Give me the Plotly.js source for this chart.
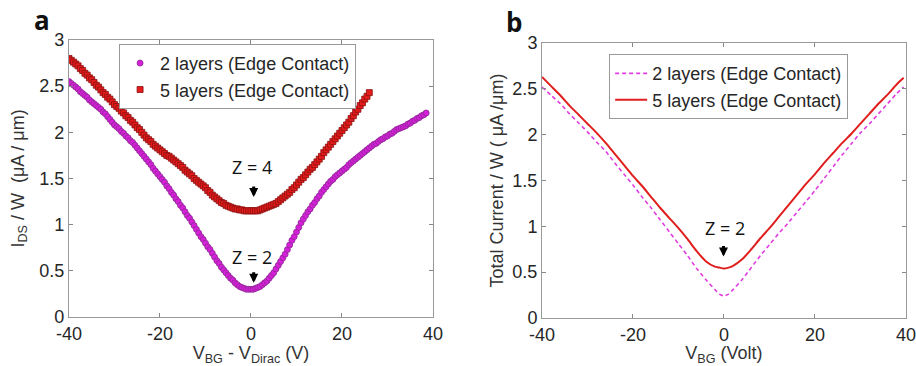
<!DOCTYPE html>
<html>
<head>
<meta charset="utf-8">
<script src="https://cdn.plot.ly/plotly-3.0.1.min.js"></script>
<style>html,body{margin:0;padding:0;background:#fff;}#chart{width:916px;height:366px;}</style>
</head>
<body>
<div id="chart"></div>
<script>
// Panel a: measured I_DS/W vs V_BG - V_Dirac (2 layers)
const aX2 = [-40,-39.5,-39,-38.5,-38,-37.5,-37,-36.5,-36,-35.5,-35,-34.5,-34,-33.5,-33,-32.5,-32,-31.5,-31,-30.5,-30,-29.5,-29,-28.5,-28,-27.5,-27,-26.5,-26,-25.5,-25,-24.5,-24,-23.5,-23,-22.5,-22,-21.5,-21,-20.5,-20,-19.5,-19,-18.5,-18,-17.5,-17,-16.5,-16,-15.5,-15,-14.5,-14,-13.5,-13,-12.5,-12,-11.5,-11,-10.5,-10,-9.5,-9,-8.5,-8,-7.5,-7,-6.5,-6,-5.5,-5,-4.5,-4,-3.5,-3,-2.5,-2,-1.5,-1,-0.5,0,0.5,1,1.5,2,2.5,3,3.5,4,4.5,5,5.5,6,6.5,7,7.5,8,8.5,9,9.5,10,10.5,11,11.5,12,12.5,13,13.5,14,14.5,15,15.5,16,16.5,17,17.5,18,18.5,19,19.5,20,20.5,21,21.5,22,22.5,23,23.5,24,24.5,25,25.5,26,26.5,27,27.5,28,28.5,29,29.5,30,30.5,31,31.5,32,32.5,33,33.5,34,34.5,35,35.5,36,36.5,37,37.5,38,38.5];
const aY2 = [2.55,2.53,2.51,2.49,2.47,2.44,2.42,2.40,2.38,2.35,2.33,2.31,2.29,2.27,2.25,2.22,2.20,2.17,2.14,2.11,2.08,2.06,2.04,2.01,1.99,1.96,1.94,1.91,1.89,1.86,1.83,1.80,1.77,1.74,1.71,1.68,1.65,1.61,1.58,1.55,1.52,1.49,1.46,1.42,1.39,1.35,1.32,1.28,1.25,1.21,1.18,1.14,1.10,1.07,1.03,0.99,0.95,0.91,0.87,0.84,0.80,0.76,0.73,0.69,0.65,0.61,0.58,0.54,0.51,0.48,0.45,0.42,0.40,0.37,0.35,0.33,0.32,0.31,0.30,0.30,0.30,0.30,0.31,0.32,0.33,0.35,0.37,0.39,0.42,0.45,0.48,0.52,0.56,0.60,0.64,0.68,0.73,0.78,0.83,0.87,0.92,0.97,1.02,1.06,1.10,1.14,1.17,1.21,1.24,1.28,1.31,1.35,1.38,1.41,1.44,1.47,1.49,1.52,1.54,1.56,1.58,1.60,1.62,1.65,1.67,1.69,1.71,1.73,1.75,1.77,1.79,1.81,1.83,1.85,1.87,1.88,1.90,1.92,1.93,1.95,1.96,1.98,1.99,2.01,2.03,2.04,2.05,2.06,2.07,2.09,2.10,2.12,2.13,2.15,2.16,2.18,2.19,2.21];
// Panel a: 5 layers
const aX5 = [-40,-39.5,-39,-38.5,-38,-37.5,-37,-36.5,-36,-35.5,-35,-34.5,-34,-33.5,-33,-32.5,-32,-31.5,-31,-30.5,-30,-29.5,-29,-28.5,-28,-27.5,-27,-26.5,-26,-25.5,-25,-24.5,-24,-23.5,-23,-22.5,-22,-21.5,-21,-20.5,-20,-19.5,-19,-18.5,-18,-17.5,-17,-16.5,-16,-15.5,-15,-14.5,-14,-13.5,-13,-12.5,-12,-11.5,-11,-10.5,-10,-9.5,-9,-8.5,-8,-7.5,-7,-6.5,-6,-5.5,-5,-4.5,-4,-3.5,-3,-2.5,-2,-1.5,-1,-0.5,0,0.5,1,1.5,2,2.5,3,3.5,4,4.5,5,5.5,6,6.5,7,7.5,8,8.5,9,9.5,10,10.5,11,11.5,12,12.5,13,13.5,14,14.5,15,15.5,16,16.5,17,17.5,18,18.5,19,19.5,20,20.5,21,21.5,22,22.5,23,23.5,24,24.5,25,25.5,26];
const aY5 = [2.80,2.78,2.76,2.74,2.72,2.69,2.67,2.64,2.62,2.59,2.57,2.54,2.51,2.49,2.46,2.43,2.41,2.38,2.36,2.33,2.30,2.28,2.26,2.23,2.21,2.18,2.16,2.13,2.11,2.08,2.05,2.03,2.00,1.97,1.94,1.92,1.90,1.87,1.85,1.83,1.81,1.79,1.77,1.75,1.74,1.72,1.70,1.68,1.66,1.64,1.62,1.59,1.57,1.55,1.53,1.50,1.48,1.46,1.44,1.42,1.40,1.37,1.35,1.32,1.30,1.28,1.26,1.24,1.23,1.21,1.20,1.19,1.18,1.17,1.17,1.16,1.16,1.15,1.15,1.15,1.15,1.15,1.15,1.15,1.16,1.17,1.18,1.19,1.20,1.21,1.22,1.23,1.25,1.27,1.29,1.31,1.33,1.35,1.38,1.40,1.43,1.46,1.49,1.51,1.54,1.57,1.60,1.62,1.65,1.68,1.71,1.74,1.78,1.81,1.84,1.87,1.90,1.93,1.96,1.99,2.02,2.05,2.08,2.11,2.15,2.18,2.22,2.25,2.29,2.32,2.36,2.39,2.43];

// Panel b: simulated total current / W vs V_BG
const bX = [-40,-38,-36,-34,-32,-30,-28,-26,-24,-22,-20,-18,-16,-14,-12,-10,-8,-6,-4,-2,-1,0,1,2,4,6,8,10,12,14,16,18,20,22,24,26,28,30,32,34,36,38,39.5];
const bY2 = [2.52,2.43,2.34,2.23,2.13,2.03,1.92,1.82,1.69,1.57,1.45,1.32,1.20,1.07,0.94,0.81,0.68,0.54,0.42,0.31,0.26,0.24,0.26,0.31,0.42,0.55,0.68,0.80,0.92,1.03,1.15,1.27,1.39,1.52,1.65,1.78,1.90,2.02,2.12,2.23,2.34,2.45,2.52];
const bY5 = [2.63,2.53,2.43,2.32,2.22,2.12,2.02,1.91,1.79,1.67,1.55,1.44,1.32,1.20,1.09,0.98,0.86,0.73,0.62,0.56,0.55,0.54,0.55,0.57,0.64,0.75,0.87,0.98,1.10,1.22,1.34,1.46,1.57,1.69,1.80,1.91,2.01,2.12,2.23,2.34,2.44,2.55,2.62];

const seriesNames = ['2 layers (Edge Contact)', '5 layers (Edge Contact)'];
const yTicks = [0, 0.5, 1, 1.5, 2, 2.5, 3];
const yTickText = ['0', '0.5', '1', '1.5', '2', '2.5', '3'];
const xTicks = [-40, -20, 0, 20, 40];

const F = 'Liberation Sans, Arial, sans-serif';
const F2 = 'Open Sans, Liberation Sans, sans-serif';

const traces = [
  {x: aX2, y: aY2, type: 'scatter', mode: 'markers', name: seriesNames[0], xaxis: 'x', yaxis: 'y', legend: 'legend',
   marker: {symbol: 'circle', size: 6, color: '#d61fd8', line: {color: '#8a2a92', width: 0.8}}},
  {x: aX5, y: aY5, type: 'scatter', mode: 'markers', name: seriesNames[1], xaxis: 'x', yaxis: 'y', legend: 'legend',
   marker: {symbol: 'square', size: 6, color: '#e31b1b', line: {color: '#8a1010', width: 0.8}}},
  {x: bX, y: bY2, type: 'scatter', mode: 'lines', name: seriesNames[0], xaxis: 'x2', yaxis: 'y2', legend: 'legend2',
   line: {color: '#e03ce0', width: 1.6, dash: '4px,3px', shape: 'spline', smoothing: 0.6}},
  {x: bX, y: bY5, type: 'scatter', mode: 'lines', name: seriesNames[1], xaxis: 'x2', yaxis: 'y2', legend: 'legend2',
   line: {color: '#e01e1e', width: 2, shape: 'spline', smoothing: 0.6}}
];

function xax(domain, anchor, title) {
  return {domain: domain, anchor: anchor, range: [-40, 40], tickvals: xTicks, ticktext: xTicks.map(String),
    ticks: 'inside', ticklen: 4, tickcolor: '#888', showline: true, linecolor: '#999', linewidth: 1,
    mirror: 'ticks', showgrid: false, zeroline: false, automargin: false,
    tickfont: {family: F, size: 18, color: '#262626'},
    title: {text: title, font: {family: F, size: 18, color: '#333'}, standoff: 2}};
}
function yax(domain, anchor, title, standoff) {
  return {domain: domain, anchor: anchor, range: [0, 3], tickvals: yTicks, ticktext: yTickText,
    ticks: 'inside', ticklen: 4, tickcolor: '#888', showline: true, linecolor: '#999', linewidth: 1,
    mirror: 'ticks', showgrid: false, zeroline: false, automargin: false,
    tickfont: {family: F, size: 18, color: '#262626'},
    title: {text: title, font: {family: F, size: 18, color: '#333'}, standoff: standoff}};
}

const layout = {
  width: 916, height: 366,
  margin: {l: 0, r: 0, t: 0, b: 0},
  paper_bgcolor: '#fff', plot_bgcolor: '#fff',
  showlegend: true,
  xaxis: xax([0.0753, 0.4727], 'y', 'V<sub>BG</sub> - V<sub>Dirac</sub> (V)'),
  yaxis: yax([0.1339, 0.8907], 'x', 'I<sub>DS</sub> / W  (μA / μm)', 10),
  xaxis2: xax([0.5917, 0.989], 'y2', 'V<sub>BG</sub> (Volt)'),
  yaxis2: yax([0.1311, 0.8825], 'x2', 'Total Current / W ( μA /μm)', 4),
  legend: {x: 0.130, y: 0.880, xanchor: 'left', yanchor: 'top', bgcolor: '#fff',
    bordercolor: '#999', borderwidth: 1, font: {family: F, size: 18, color: '#262626'},
    tracegroupgap: 0, itemwidth: 30},
  legend2: {x: 0.665, y: 0.852, xanchor: 'left', yanchor: 'top', bgcolor: '#fff',
    bordercolor: '#999', borderwidth: 1, font: {family: F, size: 18, color: '#262626'},
    tracegroupgap: 0, itemwidth: 32},
  annotations: [
    {text: '<b>a</b>', xref: 'paper', yref: 'paper', x: 42/916, y: 1 - 20/366, xanchor: 'center', yanchor: 'middle', showarrow: false, font: {family: F2, size: 26, color: '#111'}},
    {text: '<b>b</b>', xref: 'paper', yref: 'paper', x: 514/916, y: 1 - 22/366, xanchor: 'center', yanchor: 'middle', showarrow: false, font: {family: F2, size: 26, color: '#111'}},
    {text: 'Z = 4', xref: 'x', yref: 'y', x: 0.2, y: 1.62, showarrow: false, font: {family: F2, size: 18, color: '#111'}},
    {text: '', xref: 'x', yref: 'y', x: 0.6, y: 1.30, ax: 0, ay: -12, showarrow: true, arrowhead: 2, arrowsize: 0.6, arrowwidth: 3, arrowcolor: '#000'},
    {text: 'Z = 2', xref: 'x', yref: 'y', x: 0.2, y: 0.65, showarrow: false, font: {family: F2, size: 18, color: '#111'}},
    {text: '', xref: 'x', yref: 'y', x: 0.6, y: 0.37, ax: 0, ay: -12, showarrow: true, arrowhead: 2, arrowsize: 0.6, arrowwidth: 3, arrowcolor: '#000'},
    {text: 'Z = 2', xref: 'x2', yref: 'y2', x: 0.3, y: 0.98, showarrow: false, font: {family: F2, size: 18, color: '#111'}},
    {text: '', xref: 'x2', yref: 'y2', x: -0.1, y: 0.67, ax: 0, ay: -12, showarrow: true, arrowhead: 2, arrowsize: 0.6, arrowwidth: 3, arrowcolor: '#000'}
  ]
};

Plotly.newPlot('chart', traces, layout, {displayModeBar: false, staticPlot: true});
</script>
</body>
</html>
